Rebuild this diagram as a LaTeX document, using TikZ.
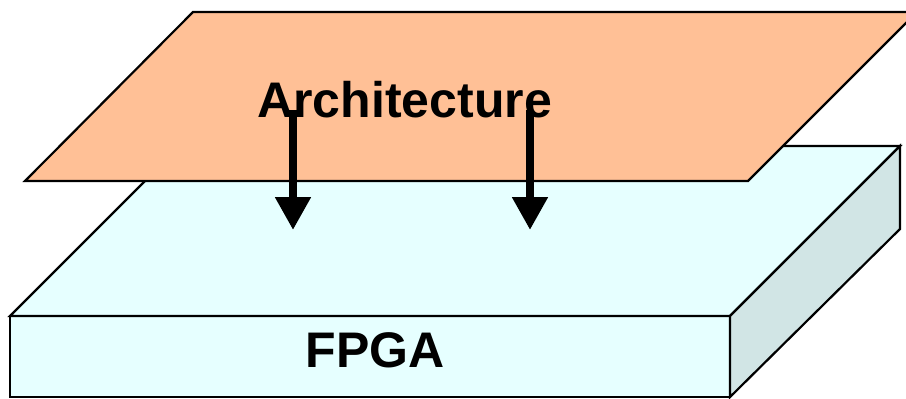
\documentclass[tikz,border=0pt]{standalone}
\usepackage{fontspec}
\setmainfont{Liberation Sans}
\usetikzlibrary{arrows.meta, positioning}
\definecolor{planeO}{HTML}{FFC096}
\definecolor{chipT}{HTML}{E6FFFF}
\definecolor{chipS}{HTML}{D1E5E5}

\begin{document}
\begin{tikzpicture}[
  x=0.5pt, y=-0.5pt,
  face/.style={fill=#1, draw=black, line width=1.1pt, line join=miter},
  label/.style={font=\fontsize{25}{30}\selectfont\bfseries, inner sep=0pt},
  down/.style={-{Triangle[length=16.5pt, width=17pt]}, line width=4pt}
]
\useasboundingbox (0,0) rectangle (906,398);
\clip (0,0) rectangle (906,398);

%% ═══ FPGA block ═══
\coordinate (fl) at (10,316);
\coordinate (fr) at (730,316);
\coordinate (bl) at (180,146);
\coordinate (br) at (900,146);
\draw[face=chipT] (fl) -- (fr) -- (730,397) -- (10,397) -- cycle;
\draw[face=chipT] (fl) -- (bl) -- (br) -- (fr) -- cycle;
\draw[face=chipS] (fr) -- (br) -- (900,229) -- (730,397) -- cycle;
\node[label] (fpga) at (375,350) {FPGA};

%% ═══ architecture plane ═══
\draw[face=planeO] (25,181) -- (193,12) -- (917,12) -- (748,181) -- cycle;
\node[label, anchor=base west] (arch) at (257,117) {Architecture};

%% mapping arrows
\coordinate (a1) at (293,110);
\coordinate (b1) at (293,230);
\coordinate (a2) at (530,110);
\coordinate (b2) at (530,230);
\draw[down] (a1) -- (b1);
\draw[down] (a2) -- (b2);

\end{tikzpicture}
\end{document}
